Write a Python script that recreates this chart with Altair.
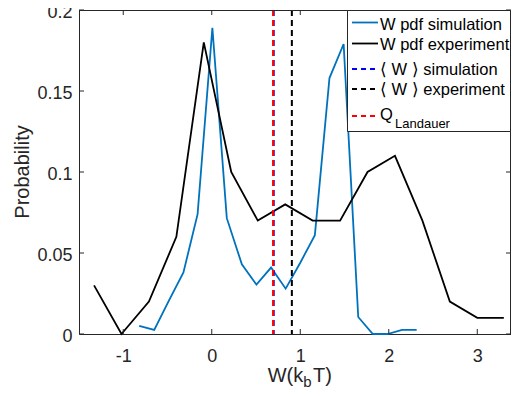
import altair as alt
import pandas as pd

# ---- data ----
x_sim = [-0.82, -0.65, -0.49, -0.32, -0.16, 0.007, 0.17, 0.34, 0.505, 0.67,
         0.835, 1.00, 1.165, 1.33, 1.49, 1.655, 1.82, 1.985, 2.15, 2.315]
y_sim = [0.005, 0.0025, 0.02, 0.038, 0.074, 0.189, 0.0715, 0.043, 0.0305, 0.041,
         0.028, 0.044, 0.061, 0.158, 0.179, 0.0105, 0.0, 0.0, 0.0025, 0.0025]
x_exp = [-1.33, -1.02, -0.71, -0.40, -0.09, 0.22, 0.52, 0.83, 1.14, 1.45,
         1.76, 2.07, 2.38, 2.69, 3.00, 3.30]
y_exp = [0.03, 0.0, 0.02, 0.06, 0.18, 0.10, 0.07, 0.08, 0.07, 0.07,
         0.10, 0.11, 0.07, 0.02, 0.01, 0.01]
mean_sim = [0.70]
mean_exp = [0.905]
q_landauer = [0.693]
x_ticks = [-1, 0, 1, 2, 3]
y_ticks = [0, 0.05, 0.1, 0.15, 0.2]
legend_labels = ["W pdf simulation", "W pdf experiment",
                 "\u27e8 W \u27e9 simulation", "\u27e8 W \u27e9 experiment", "Q"]
legend_sub = ["Landauer"]
x_title = ["W(k", "b", "T)"]
y_title = ["Probability"]

# ---- layout / style ----
W, H = 432, 324
AX = "#262626"
FONT = "Liberation Sans"
BLUE = "#0072BD"

xscale = alt.Scale(domain=[-1.5, 3.381], nice=False, zero=False)
yscale = alt.Scale(domain=[0, 0.2], nice=False, zero=False)
xaxis = alt.Axis(values=x_ticks, labelExpr="datum.value + ''", ticks=False, tickSize=0,
                 domain=True, domainColor=AX, domainWidth=1, grid=False,
                 labelFontSize=18, labelFont=FONT,
                 labelColor=AX, labelPadding=13, title=None)
yaxis = alt.Axis(values=y_ticks, labelExpr="datum.value + ''", ticks=False, tickSize=0,
                 domain=True, domainColor=AX, domainWidth=1, grid=False,
                 labelFontSize=18, labelFont=FONT,
                 labelColor=AX, labelPadding=7, labelOffset=2, title=None)
X = alt.X("x:Q", scale=xscale, axis=xaxis)
Y = alt.Y("y:Q", scale=yscale, axis=yaxis)

xt = pd.DataFrame({"x": x_ticks})
yt = pd.DataFrame({"y": y_ticks})
one = pd.DataFrame({"label": ["frame"]})
layers = []
# data lines
layers.append(alt.Chart(pd.DataFrame({"x": x_sim, "y": y_sim})).mark_line(color=BLUE, strokeWidth=1.8).encode(x=X, y=Y))
layers.append(alt.Chart(pd.DataFrame({"x": x_exp, "y": y_exp})).mark_line(color="black", strokeWidth=1.8).encode(x=X, y=Y))

# vertical dashed lines
dash = [6, 4]
for vals, col in [(mean_sim, "blue"), (mean_exp, "black"), (q_landauer, "red")]:
    layers.append(alt.Chart(pd.DataFrame({"x": vals})).mark_rule(color=col, strokeDash=dash, strokeWidth=2).encode(x=X))

# inward ticks on all four sides and the top/right sides of the box
layers.append(alt.Chart(xt).mark_rule(color=AX, strokeWidth=1).encode(x=X, y=alt.value(H), y2=alt.value(H - 5)))
layers.append(alt.Chart(xt).mark_rule(color=AX, strokeWidth=1).encode(x=X, y=alt.value(0), y2=alt.value(5)))
layers.append(alt.Chart(yt).mark_rule(color=AX, strokeWidth=1).encode(y=Y, x=alt.value(0), x2=alt.value(5)))
layers.append(alt.Chart(yt).mark_rule(color=AX, strokeWidth=1).encode(y=Y, x=alt.value(W), x2=alt.value(W - 5)))
layers.append(alt.Chart(one).mark_rule(color=AX, strokeWidth=1).encode(
    x=alt.value(0), x2=alt.value(W), y=alt.value(0.5)))
layers.append(alt.Chart(one).mark_rule(color=AX, strokeWidth=1).encode(
    x=alt.value(W - 0.5), y=alt.value(0), y2=alt.value(H)))

# legend
LX = 268.5
R = W - 0.5
layers.append(alt.Chart(pd.DataFrame({"label": ["box"]})).mark_rect(fill="white", stroke=AX, strokeWidth=1).encode(
    x=alt.value(LX), x2=alt.value(R), y=alt.value(0.5), y2=alt.value(121.5)))
line_y = [12.5, 33.5, 59, 79, 106]
text_y = [20, 40, 65, 85, 110]
styles = [(BLUE, None), ("black", None), ("blue", [5, 4]), ("black", [5, 4]), ("red", [5, 4])]
for lab, ly, ty, (col, sd) in zip(legend_labels, line_y, text_y, styles):
    d = pd.DataFrame({"label": [lab]})
    kw = dict(color=col, strokeWidth=1.8)
    if sd:
        kw["strokeDash"] = sd
    layers.append(alt.Chart(d).mark_rule(**kw).encode(x=alt.value(LX + 4.5), x2=alt.value(LX + 30.5), y=alt.value(ly)))
    layers.append(alt.Chart(d).mark_text(align="left", baseline="alphabetic", font=FONT, fontSize=16.5, color="black").encode(
        x=alt.value(LX + 32.5), y=alt.value(ty), text="label:N"))
layers.append(alt.Chart(pd.DataFrame({"label": legend_sub})).mark_text(align="left", baseline="alphabetic", font=FONT, fontSize=13, color="black").encode(
    x=alt.value(LX + 47.5), y=alt.value(118), text="label:N"))

# axis titles
tx = [188.7, 224.3, 234]
ty = [372, 376.5, 372]
tfs = [20, 15, 20]
for t, xx, yy, fs in zip(x_title, tx, ty, tfs):
    layers.append(alt.Chart(pd.DataFrame({"label": [t]})).mark_text(align="left", baseline="alphabetic", font=FONT, fontSize=fs, color=AX).encode(
        x=alt.value(xx), y=alt.value(yy), text="label:N"))
layers.append(alt.Chart(pd.DataFrame({"label": y_title})).mark_text(align="center", baseline="alphabetic", angle=270, font=FONT, fontSize=20, color=AX).encode(
    x=alt.value(-50), y=alt.value(H / 2), text="label:N"))

chart = alt.layer(*layers).properties(
    width=W, height=H,
    padding={"left": 71, "top": 2, "right": 0, "bottom": 55},
    autosize=alt.AutoSizeParams(type="none"),
).configure_view(stroke=None)

chart.save("out.html", embed_options={"renderer": "svg", "actions": False})
